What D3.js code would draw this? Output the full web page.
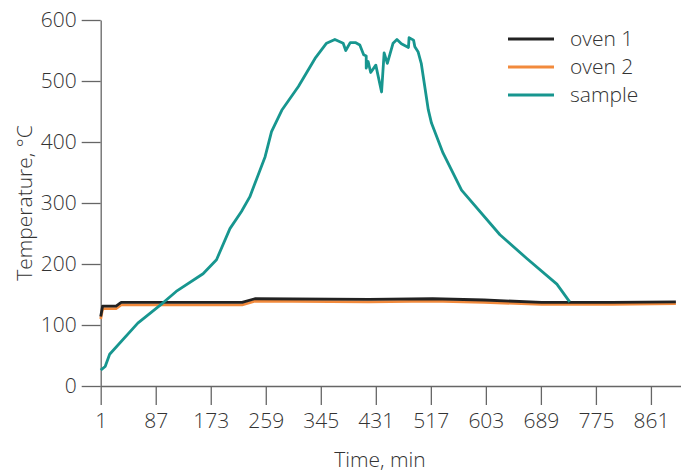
<!DOCTYPE html>
<html>
<head>
<meta charset="utf-8">
<script src="https://cdn.jsdelivr.net/npm/d3@7"></script>
<style>
  html, body { margin: 0; padding: 0; background: #fff; }
  svg text { font-family: "Open Sans", "Liberation Sans", Arial, sans-serif; font-weight: 300; fill: #333; }
</style>
</head>
<body>
<svg id="chart" width="681" height="472"></svg>
<script>
// ---- data ----
const xTickValues = [1, 87, 173, 259, 345, 431, 517, 603, 689, 775, 861];
const yTickValues = [0, 100, 200, 300, 400, 500, 600];
const seriesNames = ["oven 1", "oven 2", "sample"];

const oven1Time = [1, 4, 25, 33, 222, 242, 420, 520, 600, 690, 800, 900];
const oven1Temp = [114, 131, 131, 137, 137, 143, 142, 143, 141, 137, 137, 138];

const oven2Time = [1, 4, 25, 33, 222, 242, 420, 520, 600, 690, 800, 900];
const oven2Temp = [110, 127, 127, 133, 133, 139, 138, 139, 137, 134, 134, 135];

const sampleTime = [1, 8, 15, 59, 98, 119, 161, 182, 203, 221, 234, 242, 258, 268, 284, 310, 336, 354, 367, 380, 384, 391, 399, 406, 412, 416, 416, 419, 423, 431, 440, 444, 449, 458, 464, 471, 482, 483, 490, 492, 497, 502, 513, 518, 536, 565, 625, 667, 714, 734];
const sampleTemp = [26, 32, 52, 103, 136, 155, 184, 207, 258, 286, 310, 332, 376, 417, 452, 491, 537, 562, 568, 562, 550, 563, 563, 559, 543, 541, 521, 532, 514, 526, 482, 546, 529, 562, 568, 561, 555, 571, 567, 556, 548, 529, 453, 431, 382, 321, 248, 209, 167, 138];

const colors = ["#222222", "#f28a3c", "#17968f"];

// ---- layout ----
const svg = d3.select("#chart");
const x = d3.scaleLinear().domain([1, 908]).range([100.7, 681]);
const y = d3.scaleLinear().domain([0, 600]).range([386, 20]);

const axisColor = "#666";
const fontSize = 21;

// x axis
const gx = svg.append("g").attr("transform", "translate(0,386)")
  .call(d3.axisBottom(x).tickValues(xTickValues).tickFormat(d3.format("d")).tickSize(19).tickSizeOuter(0).tickPadding(8));
// y axis
const gy = svg.append("g").attr("transform", "translate(100.7,0)")
  .call(d3.axisLeft(y).tickValues(yTickValues).tickSize(19).tickSizeOuter(0).tickPadding(5));

[gx, gy].forEach(g => {
  g.selectAll("path.domain").attr("stroke", axisColor).attr("stroke-width", 1.3);
  g.selectAll(".tick line").attr("stroke", axisColor).attr("stroke-width", 1.3);
  g.selectAll(".tick text").style("font-size", fontSize + "px").attr("fill", "#333")
    .style("font-family", "'Open Sans', 'Liberation Sans', Arial, sans-serif").style("font-weight", 300);
});

// axis titles
svg.append("text").attr("x", 380).attr("y", 467).attr("text-anchor", "middle")
  .style("font-size", fontSize + "px").text("Time, min");
svg.append("text").attr("transform", "translate(32,203) rotate(-90)").attr("text-anchor", "middle")
  .style("font-size", fontSize + "px").text("Temperature, °C");

// lines
const line = d3.line().x(d => x(d[0])).y(d => y(d[1]));
const seriesData = [
  d3.zip(oven1Time, oven1Temp),
  d3.zip(oven2Time, oven2Temp),
  d3.zip(sampleTime, sampleTemp)
];
// draw orange first, then black on top, then sample
[1, 0, 2].forEach(i => {
  svg.append("path").datum(seriesData[i])
    .attr("fill", "none").attr("stroke", colors[i]).attr("stroke-width", 2.8)
    .attr("stroke-linejoin", "round")
    .attr("d", line);
});

// legend
const legend = svg.append("g");
seriesNames.forEach((name, i) => {
  const ly = 39 + i * 28;
  legend.append("line").attr("x1", 508).attr("x2", 554).attr("y1", ly).attr("y2", ly)
    .attr("stroke", colors[i]).attr("stroke-width", 2.8);
  legend.append("text").attr("x", 570).attr("y", ly).attr("dy", "0.35em")
    .style("font-size", fontSize + "px").text(name);
});
</script>
</body>
</html>
